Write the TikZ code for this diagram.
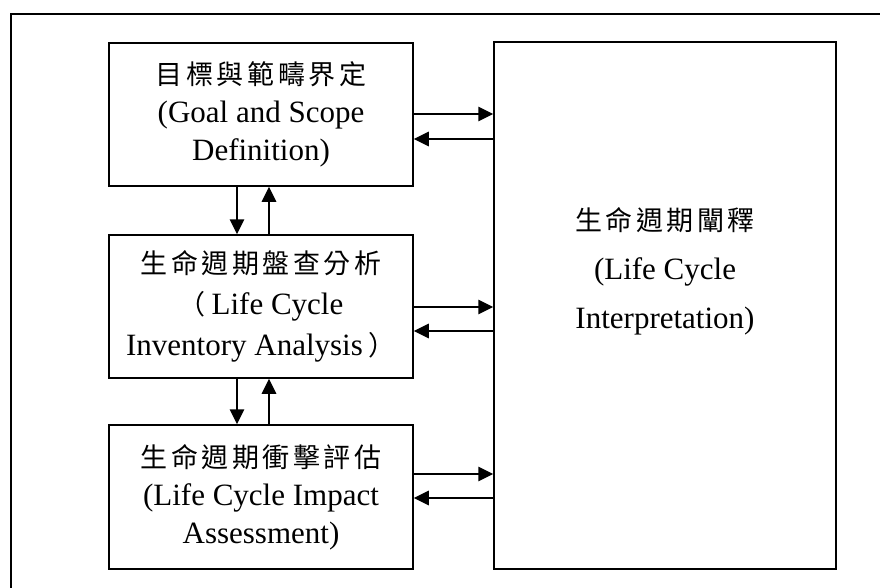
\documentclass[tikz,border=0pt]{standalone}
\usepackage{fontspec}
\setmainfont{Liberation Serif}
\newfontfamily\cjk[LetterSpace=13]{Noto Sans CJK TC}
\newfontfamily\cjkparen{Noto Sans CJK TC}
\usetikzlibrary{arrows.meta}

\tikzset{
  stage/.style={draw, line width=1.5pt, minimum width=304pt, minimum height=143pt,
    inner sep=0pt, align=center, font=\fontsize{31}{38}\selectfont},
  flow/.style={line width=1.5pt, -{Triangle[length=15pt,width=14.5pt]}},
  frameline/.style={line width=2.8pt},
}
\newcommand{\zh}[1]{{\cjk\fontsize{27}{38}\selectfont #1}}
\newcommand{\fparen}[1]{{\cjkparen\fontsize{27}{38}\selectfont #1}}

\begin{document}
\begin{tikzpicture}[x=1pt,y=-1pt]
\useasboundingbox (0,0) rectangle (880,588);

% outer frame (top and left sides)
\coordinate (fbl) at (11,588);
\coordinate (ftl) at (11,14);
\coordinate (ftr) at (880,14);
\draw[frameline] (fbl) -- (ftl) -- (ftr);

% stages of the assessment
\node[stage] (goal) at (261,114.5) {\zh{目標與範疇界定}\\(Goal and Scope\\Definition)};
\node[stage, font=\fontsize{31}{41}\selectfont] (inv) at (261,306.5)
  {\zh{生命週期盤查分析}\\\fparen{（}\hspace{6pt}Life Cycle\\Inventory Analysis\hspace{6pt}\fparen{）}};
\node[stage, minimum height=144pt] (imp) at (261,497) {\zh{生命週期衝擊評估}\\(Life Cycle Impact\\Assessment)};

% interpretation
\node[draw, line width=1.5pt, minimum width=342pt, minimum height=527pt, inner sep=0pt] (interp) at (665,305.5) {};
\node[align=center, font=\fontsize{31}{49}\selectfont] (interptext) at (665,271)
  {\zh{生命週期闡釋}\\(Life Cycle\\Interpretation)};

% links between stages
\draw[flow] ([xshift=-24pt]goal.south) -- ([xshift=-24pt]inv.north);
\draw[flow] ([xshift=8pt]inv.north) -- ([xshift=8pt]goal.south);
\draw[flow] ([xshift=-24pt]inv.south) -- ([xshift=-24pt]imp.north);
\draw[flow] ([xshift=8pt]imp.north) -- ([xshift=8pt]inv.south);

% links with interpretation
\draw[flow] ([yshift=0.5pt]goal.east) -- ([yshift=0.5pt]goal.east -| interp.west);
\draw[flow] ([yshift=-24.5pt]goal.east -| interp.west) -- ([yshift=-24.5pt]goal.east);
\draw[flow] ([yshift=-0.5pt]inv.east) -- ([yshift=-0.5pt]inv.east -| interp.west);
\draw[flow] ([yshift=-24.5pt]inv.east -| interp.west) -- ([yshift=-24.5pt]inv.east);
\draw[flow] ([yshift=23pt]imp.east) -- ([yshift=23pt]imp.east -| interp.west);
\draw[flow] ([yshift=-1pt]imp.east -| interp.west) -- ([yshift=-1pt]imp.east);
\end{tikzpicture}
\end{document}
